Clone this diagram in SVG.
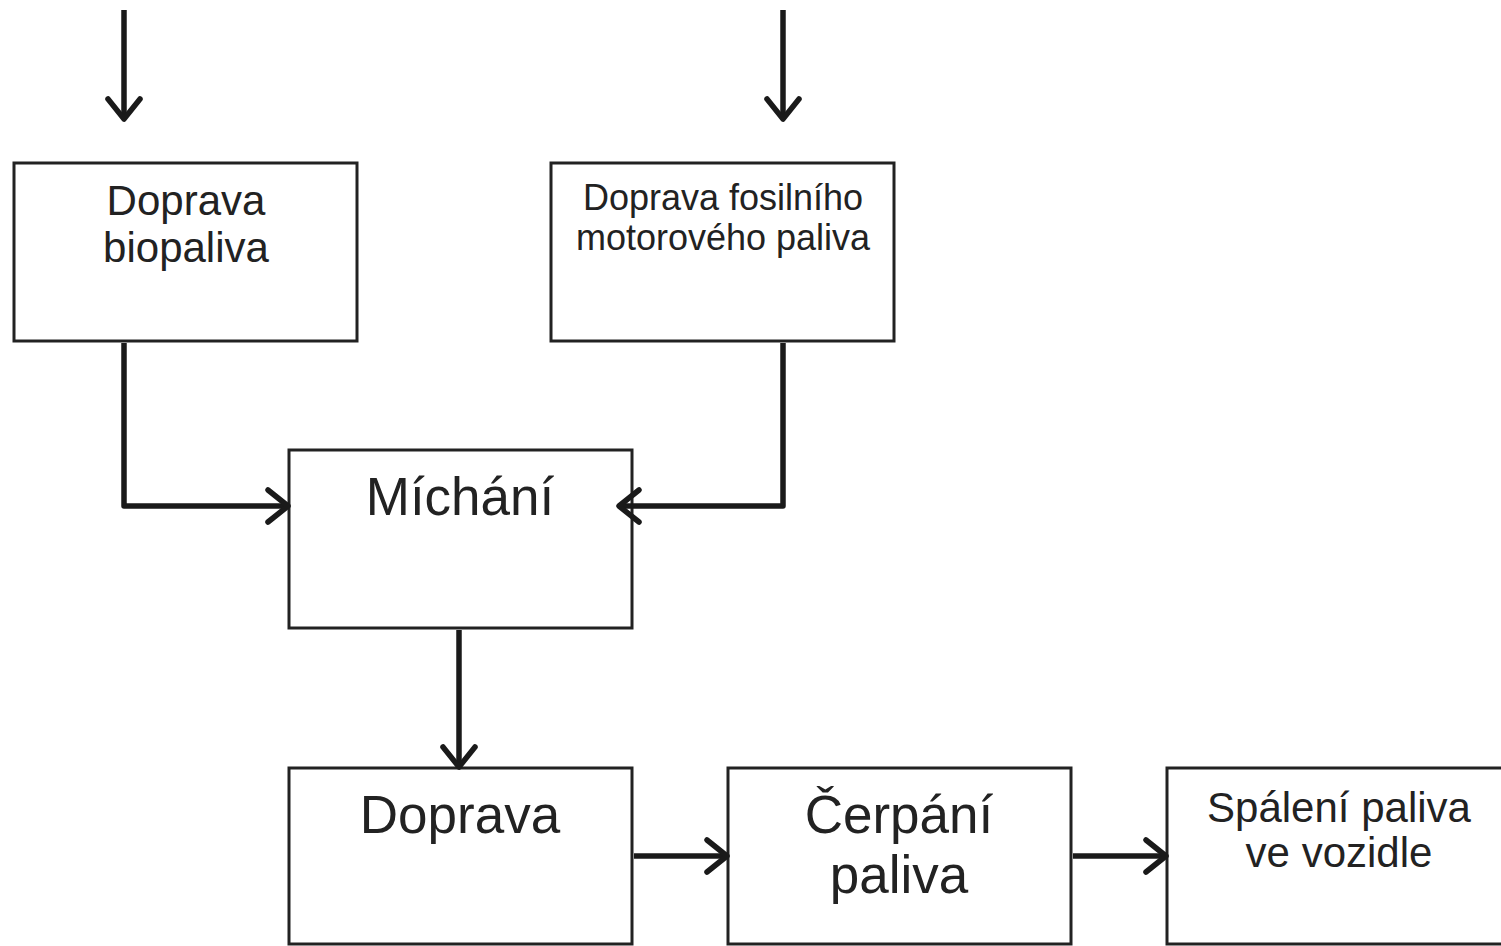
<svg xmlns="http://www.w3.org/2000/svg" width="1501" height="946" viewBox="0 0 1501 946">
<style>
.box{fill:#fff;stroke:#222;stroke-width:3}
.t{font-family:"Liberation Sans",Arial,sans-serif;fill:#222;text-anchor:middle}
.c{fill:none;stroke:#1a1a1a;stroke-width:5.5;stroke-linejoin:round}
</style>
<defs>
<marker id="ah" viewBox="0 0 26 38" refX="23" refY="19" markerWidth="26" markerHeight="38" markerUnits="userSpaceOnUse" orient="auto">
<path d="M3,3 L23,19 L3,35" fill="none" stroke="#1a1a1a" stroke-width="5.5" stroke-linecap="round" stroke-linejoin="round"/>
</marker>
</defs>
<rect width="1501" height="946" fill="#fff"/>
<g id="n1">
<rect class="box" x="14" y="163" width="343" height="178"/>
<text class="t" x="186" y="215" font-size="42">Doprava</text>
<text class="t" x="186" y="262" font-size="42">biopaliva</text>
</g>
<g id="n2">
<rect class="box" x="551" y="163" width="343" height="178"/>
<text class="t" x="723" y="210" font-size="36">Doprava fosilního</text>
<text class="t" x="723" y="250" font-size="36">motorového paliva</text>
</g>
<g id="n3">
<rect class="box" x="289" y="450" width="343" height="178"/>
<text class="t" x="460" y="515" font-size="53">Míchání</text>
</g>
<g id="n4">
<rect class="box" x="289" y="768" width="343" height="176"/>
<text class="t" x="460" y="833" font-size="53">Doprava</text>
</g>
<g id="n5">
<rect class="box" x="728" y="768" width="343" height="176"/>
<text class="t" x="899" y="833" font-size="53">Čerpání</text>
<text class="t" x="899" y="893" font-size="53">paliva</text>
</g>
<g id="n6">
<rect class="box" x="1167" y="768" width="343" height="176"/>
<text class="t" x="1339" y="822" font-size="42">Spálení paliva</text>
<text class="t" x="1339" y="867" font-size="42">ve vozidle</text>
</g>
<g id="connectors">
<path class="c" d="M124,10 V119" marker-end="url(#ah)"/>
<path class="c" d="M783,10 V119" marker-end="url(#ah)"/>
<path class="c" d="M124,343 V506 H288" marker-end="url(#ah)"/>
<path class="c" d="M783,343 V506 H619" marker-end="url(#ah)"/>
<path class="c" d="M459,630 V767" marker-end="url(#ah)"/>
<path class="c" d="M634,856 H727" marker-end="url(#ah)"/>
<path class="c" d="M1073,856 H1166" marker-end="url(#ah)"/>
</g>
</svg>
